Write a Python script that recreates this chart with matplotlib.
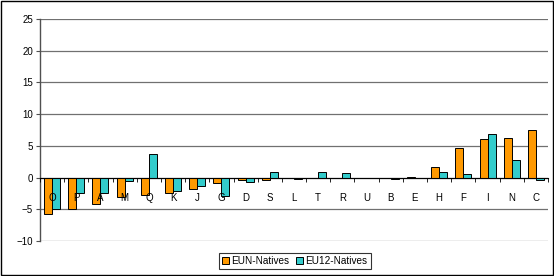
import numpy as np
import matplotlib.pyplot as plt
from matplotlib.patches import Rectangle

# values
categories = ['O', 'P', 'A', 'M', 'Q', 'K', 'J', 'G', 'D', 'S', 'L',
              'T', 'R', 'U', 'B', 'E', 'H', 'F', 'I', 'N', 'C']
eun_natives = [-5.8, -5.0, -4.1, -3.1, -2.8, -2.5, -1.8, -0.8, -0.45, -0.35, -0.05,
               0.0, 0.0, 0.0, 0.0, 0.15, 1.7, 4.7, 6.1, 6.3, 7.5]
eu12_natives = [-4.9, -2.5, -2.5, -0.5, 3.7, -2.1, -1.25, -2.9, -0.7, 0.8, -0.15,
                0.8, 0.7, 0.0, -0.2, 0.0, 0.8, 0.6, 6.9, 2.7, -0.35]
y_ticks = [-10, -5, 0, 5, 10, 15, 20, 25]

plt.rcParams['font.family'] = ['Liberation Sans', 'DejaVu Sans']
plt.rcParams['font.size'] = 7

fig = plt.figure(figsize=(5.54, 2.76), dpi=100)
ax = fig.add_axes([40 / 554, 1 - 241 / 276, 508 / 554, 222 / 276])

x = np.arange(len(categories))
w = 0.33
ax.bar(x - w / 2, eun_natives, w, color='#FF9900', edgecolor='black',
       linewidth=0.7, label='EUN-Natives', zorder=3)
ax.bar(x + w / 2, eu12_natives, w, color='#33CCCC', edgecolor='black',
       linewidth=0.7, label='EU12-Natives', zorder=3)

ax.set_xlim(-0.5, len(categories) - 0.5)
ax.set_ylim(-10, 25)
ax.set_yticks(y_ticks)
ax.yaxis.grid(True, color='#707070', linewidth=0.9, zorder=0)
ax.set_axisbelow(True)
ax.xaxis.set_zorder(5)  # category labels sit on top of the bars

# category axis crosses at zero
ax.spines['bottom'].set_position(('data', 0))
ax.spines['bottom'].set_color('black')
ax.spines['bottom'].set_zorder(4)
ax.spines['top'].set_visible(False)
ax.spines['right'].set_visible(False)
ax.spines['left'].set_color('#505050')
ax.spines['left'].set_linewidth(1.0)

ax.set_xticks(x)
ax.set_xticklabels(categories)
ax.set_xticks(np.arange(len(categories) + 1) - 0.5, minor=True)
ax.tick_params(axis='x', which='major', length=0, pad=11)
ax.tick_params(axis='x', which='minor', length=3, direction='out', color='black')
ax.tick_params(axis='y', length=3, color='#505050', pad=2)

fig.legend(loc='center', bbox_to_anchor=(294.5 / 554, 1 - 261 / 276),
           ncol=2, frameon=True, fancybox=False, edgecolor='black',
           handlelength=0.7, handleheight=0.7, handletextpad=0.3,
           columnspacing=0.6, borderpad=0.3, fontsize=7.2)
for leg in fig.legends:
    leg.get_frame().set_linewidth(0.8)

fig.add_artist(Rectangle((0.001, 0.002), 0.997, 0.995, transform=fig.transFigure,
                         fill=False, edgecolor='black', linewidth=1.0))

fig.savefig('out.png', dpi=100)
